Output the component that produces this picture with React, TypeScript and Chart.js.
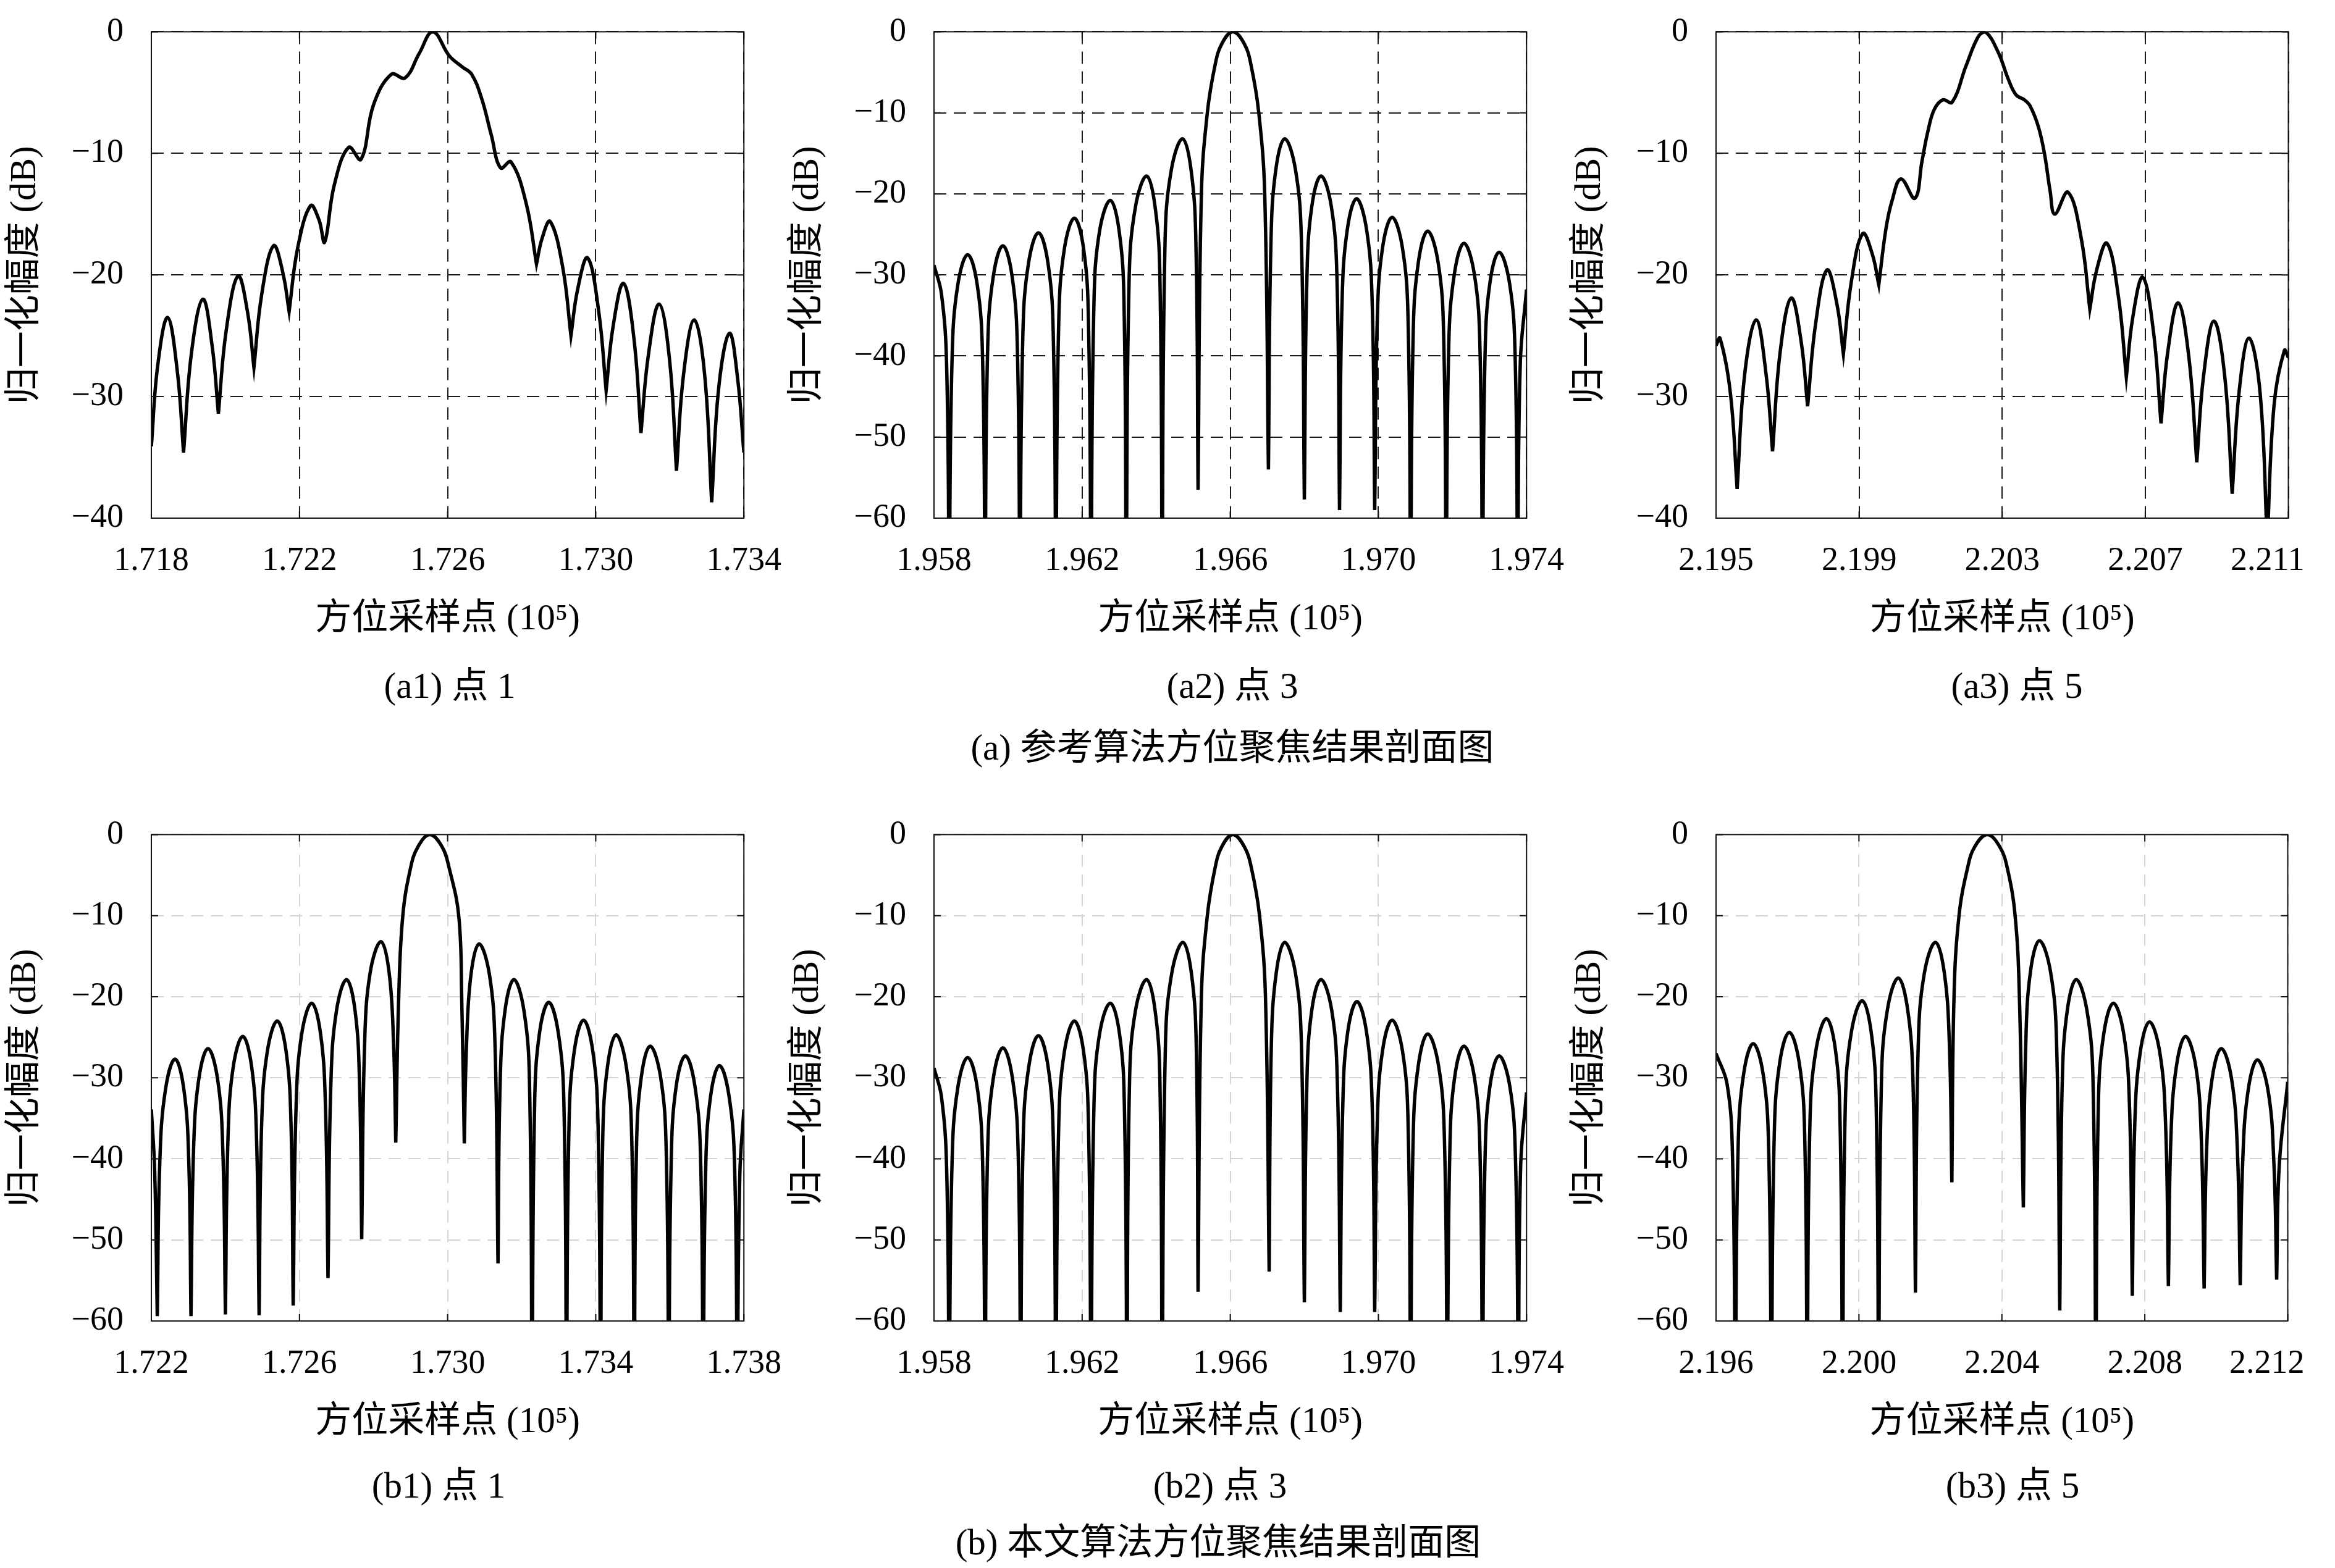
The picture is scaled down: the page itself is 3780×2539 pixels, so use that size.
import React, { useEffect, useRef } from "react";
import { Chart, registerables } from "chart.js";

Chart.register(...registerables);

// ---------- data (x in 10^5 samples, y in dB) ----------
const a1X = [1.718, 1.71817, 1.71844, 1.7187, 1.71887, 1.71908, 1.71939, 1.71964, 1.71981, 1.72002, 1.72034, 1.7206, 1.72077, 1.72098, 1.7213, 1.72155, 1.72172, 1.72195, 1.7223, 1.72253, 1.72268, 1.72294, 1.72333, 1.72366, 1.724, 1.72448, 1.72485, 1.72523, 1.7256, 1.72605, 1.7264, 1.72665, 1.72692, 1.72718, 1.72743, 1.72771, 1.72812, 1.7284, 1.72855, 1.72877, 1.72911, 1.72933, 1.72951, 1.72978, 1.73008, 1.73028, 1.73047, 1.73075, 1.73103, 1.73122, 1.73142, 1.73171, 1.73199, 1.73218, 1.73237, 1.73266, 1.73294, 1.73313, 1.73332, 1.73361, 1.73383, 1.734];
const a1Y = [-34.1, -27.5, -23.5, -27.9, -34.6, -26.5, -22.0, -25.8, -31.4, -24.6, -20.1, -23.1, -27.6, -21.6, -17.6, -19.8, -23.0, -17.8, -14.3, -15.5, -17.3, -12.6, -9.5, -10.5, -6.0, -3.5, -3.8, -1.8, 0, -2.0, -2.9, -3.5, -5.5, -8.5, -11.2, -10.7, -14.1, -19.1, -17.0, -15.6, -19.4, -25.0, -21.2, -18.6, -23.0, -29.5, -24.2, -20.7, -25.2, -33.0, -26.6, -22.4, -26.9, -36.1, -28.2, -23.7, -28.2, -38.7, -29.3, -24.8, -28.5, -34.6];

const a2X = [
  1.958, 1.9582, 1.95834, 1.95841,
  1.95849, 1.95864, 1.95891, 1.95917, 1.95931, 1.95938,
  1.95945, 1.9596, 1.95986, 1.96011, 1.96025, 1.96032,
  1.9604, 1.96055, 1.96082, 1.96108, 1.96122, 1.96129,
  1.96137, 1.96152, 1.96179, 1.96204, 1.96217, 1.96224,
  1.96232, 1.96247, 1.96276, 1.963, 1.96313, 1.96319,
  1.96327, 1.96344, 1.96374, 1.96397, 1.9641, 1.96416,
  1.96424, 1.96441, 1.96471, 1.96494, 1.96507, 1.96513,
  1.96522, 1.96538, 1.96559, 1.96577, 1.96607, 1.96638, 1.96656, 1.96677, 1.96693, 1.96703,
  1.9671, 1.96723, 1.96747, 1.96776, 1.96792, 1.968,
  1.96807, 1.9682, 1.96845, 1.96873, 1.96888, 1.96895,
  1.96902, 1.96916, 1.96941, 1.96968, 1.96983, 1.9699,
  1.96997, 1.97011, 1.97037, 1.97065, 1.9708, 1.97087,
  1.97094, 1.97108, 1.97133, 1.97161, 1.97176, 1.97183,
  1.9719, 1.97205, 1.97231, 1.97259, 1.97274, 1.97281,
  1.97288, 1.97301, 1.97326, 1.97354, 1.97369, 1.97376,
  1.97383, 1.974,
];
const a2Y = [
  -28.8, -32.3, -41.0, -70,
  -40.0, -31.3, -27.5, -31.3, -40.0, -70,
  -38.9, -30.2, -26.4, -30.2, -38.9, -70,
  -37.3, -28.6, -24.8, -28.6, -37.3, -70,
  -35.5, -26.8, -23.0, -26.8, -35.5, -70,
  -33.3, -24.6, -20.8, -24.6, -33.3, -70,
  -30.3, -21.6, -17.8, -21.6, -30.3, -70,
  -25.7, -17.0, -13.2, -17.0, -25.7, -56.5,
  -20, -10, -4.1, -1.5, 0, -1.5, -4.1, -10, -20, -54.0,
  -25.7, -17.0, -13.2, -17.0, -25.7, -57.7,
  -30.3, -21.6, -17.8, -21.6, -30.3, -59.0,
  -33.1, -24.4, -20.6, -24.4, -33.1, -59.0,
  -35.4, -26.7, -22.9, -26.7, -35.4, -70,
  -37.1, -28.4, -24.6, -28.4, -37.1, -70,
  -38.6, -29.9, -26.1, -29.9, -38.6, -70,
  -39.7, -31.0, -27.2, -31.0, -39.7, -70,
  -41.0, -31.8,
];

const a3X = [2.195, 2.19511, 2.1954, 2.19559, 2.1958, 2.19612, 2.1964, 2.19658, 2.19679, 2.1971, 2.19738, 2.19756, 2.19778, 2.1981, 2.19838, 2.19856, 2.19878, 2.1991, 2.19937, 2.19955, 2.19975, 2.19992, 2.20017, 2.20056, 2.20076, 2.20093, 2.2011, 2.20134, 2.2016, 2.20199, 2.20233, 2.20253, 2.20289, 2.20317, 2.20339, 2.20362, 2.20378, 2.20401, 2.20418, 2.20434, 2.20447, 2.20484, 2.20521, 2.20545, 2.20564, 2.20593, 2.20625, 2.20647, 2.20665, 2.20693, 2.20723, 2.20744, 2.20763, 2.20792, 2.20822, 2.20844, 2.20863, 2.20892, 2.20922, 2.20943, 2.20962, 2.2099, 2.21021, 2.21041, 2.2106, 2.21089, 2.211];
const a3Y = [-25.8, -25.2, -29.7, -37.6, -28.2, -23.7, -28.2, -34.5, -26.4, -21.9, -25.5, -30.8, -24.1, -19.6, -22.4, -26.5, -20.6, -16.6, -18.3, -20.8, -16.2, -13.9, -12.1, -13.7, -10.6, -8.1, -6.4, -5.6, -5.8, -2.8, -0.4, 0, -1.7, -3.9, -5.2, -5.6, -6.1, -7.8, -10.0, -13.1, -15.0, -13.2, -17.0, -22.8, -19.6, -17.4, -21.8, -28.4, -23.5, -20.2, -24.7, -32.2, -26.3, -22.3, -26.8, -35.4, -28.3, -23.8, -28.3, -38.0, -29.7, -25.2, -29.7, -42, -30.7, -26.2, -26.8];

const b1X = [
  1.722, 1.72209, 1.72216,
  1.72223, 1.72238, 1.72264, 1.72288, 1.72301, 1.72307,
  1.72314, 1.72328, 1.72353, 1.72379, 1.72393, 1.724,
  1.72407, 1.72421, 1.72447, 1.72471, 1.72484, 1.72491,
  1.72498, 1.72513, 1.7254, 1.72564, 1.72577, 1.72583,
  1.72591, 1.72606, 1.72633, 1.72657, 1.7267, 1.72677,
  1.72685, 1.727, 1.72727, 1.7275, 1.72762, 1.72768,
  1.72776, 1.72791, 1.7282, 1.72842, 1.72854, 1.7286,
  1.72868, 1.72879, 1.729, 1.7292, 1.72952, 1.72985, 1.73004, 1.7303, 1.73038, 1.73045,
  1.73051, 1.73063, 1.73085, 1.73113, 1.73128, 1.73136,
  1.73142, 1.73155, 1.73179, 1.73206, 1.73221, 1.73228,
  1.73235, 1.73248, 1.73273, 1.73299, 1.73314, 1.73321,
  1.73328, 1.73342, 1.73367, 1.73392, 1.73406, 1.73413,
  1.73419, 1.73432, 1.73455, 1.73482, 1.73497, 1.73504,
  1.7351, 1.73523, 1.73547, 1.73575, 1.7359, 1.73597,
  1.73604, 1.73617, 1.73642, 1.73668, 1.73683, 1.7369,
  1.73697, 1.7371, 1.73734, 1.7376, 1.73775, 1.73782,
  1.73789, 1.738,
];
const b1Y = [
  -33.9, -41.5, -59.4,
  -40.2, -31.5, -27.7, -31.5, -40.2, -59.4,
  -38.9, -30.2, -26.4, -30.2, -38.9, -59.2,
  -37.4, -28.7, -24.9, -28.7, -37.4, -59.3,
  -35.5, -26.8, -23.0, -26.8, -35.5, -58.1,
  -33.3, -24.6, -20.8, -24.6, -33.3, -54.7,
  -30.4, -21.7, -17.9, -21.7, -30.4, -49.9,
  -25.7, -17.0, -13.2, -17.0, -25.7, -38.0,
  -20, -10, -4.1, -1.5, 0, -1.5, -4.1, -10, -20, -38.1,
  -26.0, -17.3, -13.5, -17.3, -26.0, -52.9,
  -30.4, -21.7, -17.9, -21.7, -30.4, -70,
  -33.2, -24.5, -20.7, -24.5, -33.2, -70,
  -35.4, -26.7, -22.9, -26.7, -35.4, -70,
  -37.2, -28.5, -24.7, -28.5, -37.2, -70,
  -38.6, -29.9, -26.1, -29.9, -38.6, -70,
  -39.8, -31.1, -27.3, -31.1, -39.8, -70,
  -41.0, -32.3, -28.5, -32.3, -41.0, -70,
  -42.0, -33.9,
];

const b2X = [
  1.958, 1.9582, 1.95834, 1.95841,
  1.95849, 1.95864, 1.95891, 1.95917, 1.95931, 1.95938,
  1.95945, 1.9596, 1.95986, 1.96012, 1.96027, 1.96034,
  1.96041, 1.96056, 1.96082, 1.96108, 1.96122, 1.96129,
  1.96137, 1.96152, 1.96179, 1.96204, 1.96217, 1.96224,
  1.96232, 1.96247, 1.96276, 1.96301, 1.96314, 1.96321,
  1.96328, 1.96344, 1.96374, 1.96397, 1.9641, 1.96416,
  1.96425, 1.96442, 1.96472, 1.96495, 1.96508, 1.96513,
  1.96522, 1.96538, 1.96559, 1.96577, 1.96607, 1.96638, 1.96657, 1.96679, 1.96695, 1.96705,
  1.96711, 1.96724, 1.96747, 1.96776, 1.96792, 1.968,
  1.96807, 1.9682, 1.96845, 1.96874, 1.96889, 1.96897,
  1.96904, 1.96917, 1.96942, 1.96968, 1.96983, 1.9699,
  1.96997, 1.97011, 1.97037, 1.97065, 1.9708, 1.97087,
  1.97094, 1.97108, 1.97133, 1.97162, 1.97178, 1.97186,
  1.97193, 1.97206, 1.97231, 1.97259, 1.97274, 1.97281,
  1.97288, 1.97301, 1.97326, 1.97355, 1.9737, 1.97378,
  1.97384, 1.974,
];
const b2Y = [
  -28.8, -32.3, -41.0, -70,
  -40.0, -31.3, -27.5, -31.3, -40.0, -70,
  -38.8, -30.1, -26.3, -30.1, -38.8, -70,
  -37.3, -28.6, -24.8, -28.6, -37.3, -70,
  -35.5, -26.8, -23.0, -26.8, -35.5, -70,
  -33.3, -24.6, -20.8, -24.6, -33.3, -70,
  -30.4, -21.7, -17.9, -21.7, -30.4, -70,
  -25.8, -17.1, -13.3, -17.1, -25.8, -56.4,
  -20, -10, -4.1, -1.5, 0, -1.5, -4.1, -10, -20, -53.9,
  -25.8, -17.1, -13.3, -17.1, -25.8, -57.7,
  -30.4, -21.7, -17.9, -21.7, -30.4, -58.9,
  -33.1, -24.4, -20.6, -24.4, -33.1, -58.9,
  -35.4, -26.7, -22.9, -26.7, -35.4, -70,
  -37.1, -28.4, -24.6, -28.4, -37.1, -70,
  -38.6, -29.9, -26.1, -29.9, -38.6, -70,
  -39.8, -31.1, -27.3, -31.1, -39.8, -70,
  -41.0, -31.8,
];

const b3X = [
  2.196, 2.19631, 2.19646, 2.19654,
  2.19662, 2.19677, 2.19704, 2.19732, 2.19747, 2.19755,
  2.19763, 2.19778, 2.19805, 2.19833, 2.19848, 2.19855,
  2.19863, 2.1988, 2.19909, 2.19934, 2.19947, 2.19954,
  2.19962, 2.19979, 2.20009, 2.20034, 2.20048, 2.20055,
  2.20063, 2.2008, 2.2011, 2.20136, 2.20151, 2.20158,
  2.20166, 2.20183, 2.20214, 2.20239, 2.20253, 2.2026,
  2.20266, 2.2028, 2.20304, 2.20324, 2.20359, 2.20394, 2.20415, 2.20437, 2.20449, 2.2046,
  2.20467, 2.2048, 2.20505, 2.20536, 2.20553, 2.20562,
  2.20569, 2.20583, 2.20608, 2.20638, 2.20655, 2.20663,
  2.2067, 2.20685, 2.20712, 2.20741, 2.20757, 2.20765,
  2.20772, 2.20787, 2.20813, 2.20842, 2.20858, 2.20866,
  2.20873, 2.20888, 2.20914, 2.20943, 2.20958, 2.20966,
  2.20973, 2.20988, 2.21014, 2.21043, 2.21059, 2.21067,
  2.21074, 2.21089, 2.21115, 2.21145, 2.21161, 2.21169,
  2.21176, 2.212,
];
const b3Y = [
  -27.0, -30.8, -39.5, -70,
  -38.3, -29.6, -25.8, -29.6, -38.3, -70,
  -36.9, -28.2, -24.4, -28.2, -36.9, -70,
  -35.2, -26.5, -22.7, -26.5, -35.2, -70,
  -33.0, -24.3, -20.5, -24.3, -33.0, -70,
  -30.2, -21.5, -17.7, -21.5, -30.2, -56.5,
  -25.8, -17.1, -13.3, -17.1, -25.8, -42.9,
  -20, -10, -4.1, -1.5, 0, -1.5, -4.1, -10, -20, -46.0,
  -25.6, -16.9, -13.1, -16.9, -25.6, -58.7,
  -30.4, -21.7, -17.9, -21.7, -30.4, -70,
  -33.3, -24.6, -20.8, -24.6, -33.3, -56.9,
  -35.6, -26.9, -23.1, -26.9, -35.6, -55.7,
  -37.4, -28.7, -24.9, -28.7, -37.4, -56.0,
  -38.9, -30.2, -26.4, -30.2, -38.9, -55.6,
  -40.3, -31.6, -27.8, -31.6, -40.3, -54.9,
  -41.0, -30.5,
];

// tick labels
const a1Ticks = [1.718, 1.722, 1.726, 1.73, 1.734];
const a2Ticks = [1.958, 1.962, 1.966, 1.97, 1.974];
const a3Ticks = [2.195, 2.199, 2.203, 2.207, 2.211];
const b1Ticks = [1.722, 1.726, 1.73, 1.734, 1.738];
const b2Ticks = [1.958, 1.962, 1.966, 1.97, 1.974];
const b3Ticks = [2.196, 2.2, 2.204, 2.208, 2.212];
const yTicks40 = [0, -10, -20, -30, -40];
const yTicks60 = [0, -10, -20, -30, -40, -50, -60];

const subCaptions = ["(a1) 点 1", "(a2) 点 3", "(a3) 点 5", "(b1) 点 1", "(b2) 点 3", "(b3) 点 5"];
const groupCaptions = ["(a) 参考算法方位聚焦结果剖面图", "(b) 本文算法方位聚焦结果剖面图"];
const xTitle = "方位采样点 (10⁵)";
const yTitle = "归一化幅度 (dB)";

// ---------- layout ----------
const COL_LEFT = [245, 1512, 2778];
const ROW_TOP = [34, 1334];
const PLOT_W = 967;
const PLOT_H = 805;
const Y_AXIS_W = 245;
const X_AXIS_H = 240;
const PAD_TOP = 60;
const PAD_RIGHT = 90;
const FONT = "'Liberation Serif', 'Noto Sans CJK SC', serif";
const TITLE_SIZE = 59;

type PanelCfg = {
  xs: number[];
  ys: number[];
  xTicks: number[];
  yTicks: number[];
  col: number;
  row: number;
  darkGrid: boolean;
};

const PANELS: PanelCfg[] = [
  { xs: a1X, ys: a1Y, xTicks: a1Ticks, yTicks: yTicks40, col: 0, row: 0, darkGrid: true },
  { xs: a2X, ys: a2Y, xTicks: a2Ticks, yTicks: yTicks60, col: 1, row: 0, darkGrid: true },
  { xs: a3X, ys: a3Y, xTicks: a3Ticks, yTicks: yTicks40, col: 2, row: 0, darkGrid: true },
  { xs: b1X, ys: b1Y, xTicks: b1Ticks, yTicks: yTicks60, col: 0, row: 1, darkGrid: false },
  { xs: b2X, ys: b2Y, xTicks: b2Ticks, yTicks: yTicks60, col: 1, row: 1, darkGrid: false },
  { xs: b3X, ys: b3Y, xTicks: b3Ticks, yTicks: yTicks60, col: 2, row: 1, darkGrid: false },
];

// read points; a sharp null (cusp) is given as the same read point twice
function buildPoints(xs: number[], ys: number[]) {
  const pts: { x: number; y: number }[] = [];
  for (let i = 0; i < xs.length; i++) {
    pts.push({ x: xs[i], y: ys[i] });
    const cusp = i > 0 && i < xs.length - 1 && ys[i] < ys[i - 1] - 2 && ys[i] < ys[i + 1] - 2;
    if (cusp) pts.push({ x: xs[i], y: ys[i] });
  }
  return pts;
}

const framePlugin = {
  id: "frame",
  afterDraw(chart: any) {
    const { ctx, chartArea, scales } = chart;
    const { left, right, top, bottom } = chartArea;
    const tl = 11;
    ctx.save();
    ctx.setLineDash([]);
    ctx.strokeStyle = "#111";
    ctx.lineWidth = 2;
    ctx.beginPath();
    scales.x.ticks.forEach((t: any) => {
      const px = scales.x.getPixelForValue(t.value);
      ctx.moveTo(px, bottom);
      ctx.lineTo(px, bottom - tl);
      ctx.moveTo(px, top);
      ctx.lineTo(px, top + tl);
    });
    scales.y.ticks.forEach((t: any) => {
      const py = scales.y.getPixelForValue(t.value);
      ctx.moveTo(left, py);
      ctx.lineTo(left + tl, py);
      ctx.moveTo(right, py);
      ctx.lineTo(right - tl, py);
    });
    ctx.stroke();
    ctx.strokeRect(left, top, right - left, bottom - top);
    ctx.restore();
  },
};

function Panel({ cfg }: { cfg: PanelCfg }) {
  const ref = useRef<HTMLCanvasElement>(null);
  const W = Y_AXIS_W + PLOT_W + PAD_RIGHT;
  const H = PAD_TOP + PLOT_H + X_AXIS_H;
  const left = COL_LEFT[cfg.col] - Y_AXIS_W;
  const top = ROW_TOP[cfg.row] - PAD_TOP;

  useEffect(() => {
    const gridColor = cfg.darkGrid ? "#1a1a1a" : "#d4d4d4";
    const lastCol = cfg.col === 2;
    const chart = new Chart(ref.current as HTMLCanvasElement, {
      type: "line",
      data: {
        datasets: [
          {
            data: buildPoints(cfg.xs, cfg.ys),
            borderColor: "#000",
            borderWidth: 5.5,
            pointRadius: 0,
            tension: 0.4,
            fill: false,
            clip: 0,
          } as any,
        ],
      },
      options: {
        animation: false,
        responsive: false,
        devicePixelRatio: 1,
        events: [],
        layout: { padding: { top: PAD_TOP, right: PAD_RIGHT, left: 0, bottom: 0 } },
        plugins: { legend: { display: false }, tooltip: { enabled: false } },
        scales: {
          x: {
            type: "linear",
            min: cfg.xTicks[0],
            max: cfg.xTicks[cfg.xTicks.length - 1],
            afterBuildTicks: (s: any) => {
              s.ticks = cfg.xTicks.map((v) => ({ value: v }));
            },
            afterFit: (s: any) => {
              s.height = X_AXIS_H;
            },
            grid: { color: gridColor, lineWidth: 2, drawTicks: false },
            border: { display: false, dash: [20, 12] },
            ticks: {
              autoSkip: false,
              maxRotation: 0,
              padding: 37,
              color: "#000",
              font: { family: FONT, size: 54 },
              callback: (v: any, i: number, arr: any[]) => {
                const s = Number(v).toFixed(3);
                // last label of the right column is kept inside the page
                return lastCol && i === arr.length - 1 ? s + "\u00a0\u00a0\u00a0\u00a0\u00a0" : s;
              },
            },
            title: {
              display: true,
              text: xTitle,
              color: "#000",
              font: { family: FONT, size: TITLE_SIZE },
              padding: { top: 0, bottom: 40 },
            },
          },
          y: {
            type: "linear",
            min: cfg.yTicks[cfg.yTicks.length - 1],
            max: 0,
            afterBuildTicks: (s: any) => {
              s.ticks = cfg.yTicks.slice().reverse().map((v) => ({ value: v }));
            },
            afterFit: (s: any) => {
              s.width = Y_AXIS_W;
            },
            grid: { color: gridColor, lineWidth: 2, drawTicks: false },
            border: { display: false, dash: [20, 12] },
            ticks: {
              autoSkip: false,
              padding: 45,
              color: "#000",
              font: { family: FONT, size: 54 },
              callback: (v: any) => (Number(v) === 0 ? "0" : "\u2212" + Math.abs(Number(v))),
            },
            title: {
              display: true,
              text: yTitle,
              color: "#000",
              font: { family: FONT, size: TITLE_SIZE },
              padding: { top: 6, bottom: 0 },
            },
          },
        },
      },
      plugins: [framePlugin],
    } as any);
    return () => chart.destroy();
  }, [cfg]);

  return (
    <canvas
      ref={ref}
      width={W}
      height={H}
      style={{ position: "absolute", left, top, width: W, height: H }}
    />
  );
}

const SUB_X = [728, 1995, 3265, 710, 1975, 3258];
const SUB_Y = [1110, 1110, 1110, 2405, 2405, 2405];
const GROUP_X = [1995, 1972];
const GROUP_Y = [1210, 2497];

function Caption({ text, cx, cy }: { text: string; cx: number; cy: number }) {
  return (
    <div
      style={{
        position: "absolute",
        left: cx - 700,
        top: cy - 40,
        width: 1400,
        height: 80,
        lineHeight: "80px",
        textAlign: "center",
        fontFamily: FONT,
        fontSize: TITLE_SIZE,
        color: "#000",
        whiteSpace: "nowrap",
      }}
    >
      {text}
    </div>
  );
}

export default function App() {
  return (
    <div
      style={{
        position: "absolute",
        left: 0,
        top: 0,
        width: 3780,
        height: 2539,
        background: "#fff",
        overflow: "hidden",
      }}
    >
      {PANELS.map((p, i) => (
        <Panel key={i} cfg={p} />
      ))}
      {subCaptions.map((t, i) => (
        <Caption key={"s" + i} text={t} cx={SUB_X[i]} cy={SUB_Y[i]} />
      ))}
      {groupCaptions.map((t, i) => (
        <Caption key={"g" + i} text={t} cx={GROUP_X[i]} cy={GROUP_Y[i]} />
      ))}
    </div>
  );
}
